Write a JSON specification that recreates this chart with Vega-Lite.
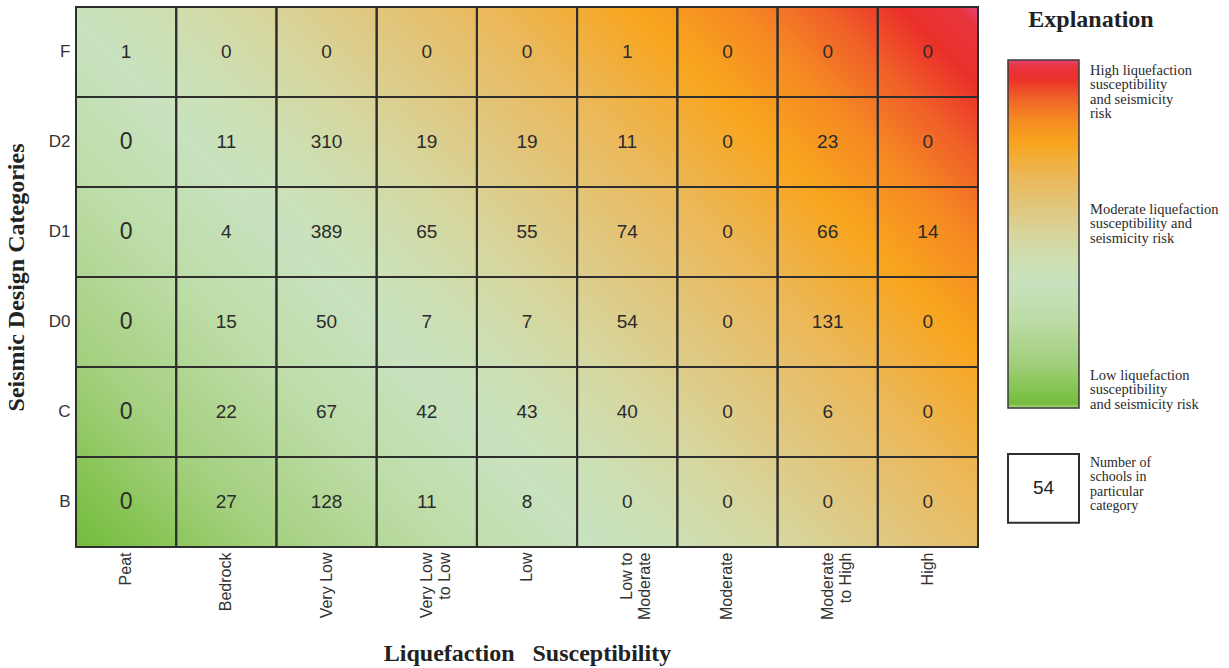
{
  "$schema": "https://vega.github.io/schema/vega-lite/v6.json",
  "padding": {"left": 4, "top": 6, "right": 5, "bottom": 5},
  "background": "white",
  "config": {"view": {"stroke": null}, "font": "Liberation Sans"},
  "spacing": 30,
  "bounds": "flush",
  "hconcat": [
    {
      "width": 902,
      "height": 540,
      "layer": [
        {
          "data": {"values": [{"x0": 0, "x1": 1, "y0": 0, "y1": 1}]},
          "mark": {
            "type": "rect",
            "strokeWidth": 0,
            "fill": {
              "gradient": "linear",
              "x1": 0, "y1": 1, "x2": 1.177, "y2": 0.297,
              "stops": [
                {"offset": 0, "color": "#72bb3c"},
                {"offset": 0.06, "color": "#88c556"},
                {"offset": 0.13, "color": "#a2cf7c"},
                {"offset": 0.25, "color": "#bcdca5"},
                {"offset": 0.36, "color": "#c8e2bf"},
                {"offset": 0.42, "color": "#cde0b4"},
                {"offset": 0.5, "color": "#d7d59c"},
                {"offset": 0.58, "color": "#e1c67c"},
                {"offset": 0.66, "color": "#ebb85a"},
                {"offset": 0.76, "color": "#f8a51e"},
                {"offset": 0.83, "color": "#f58a22"},
                {"offset": 0.89, "color": "#f06228"},
                {"offset": 0.945, "color": "#eb302a"},
                {"offset": 0.985, "color": "#e8353e"},
                {"offset": 1, "color": "#e6437c"}
              ]
            }
          },
          "encoding": {
            "x": {"field": "x0", "type": "quantitative", "scale": {"domain": [0, 1], "nice": false, "zero": false}, "axis": null},
            "x2": {"field": "x1"},
            "y": {"field": "y0", "type": "quantitative", "scale": {"domain": [0, 1], "nice": false, "zero": false}, "axis": null},
            "y2": {"field": "y1"}
          }
        },
        {
          "data": {
            "values": [
              {"row": "F", "col": "Peat", "n": 1},
              {"row": "F", "col": "Bedrock", "n": 0},
              {"row": "F", "col": "Very Low", "n": 0},
              {"row": "F", "col": "Very Low to Low", "n": 0},
              {"row": "F", "col": "Low", "n": 0},
              {"row": "F", "col": "Low to Moderate", "n": 1},
              {"row": "F", "col": "Moderate", "n": 0},
              {"row": "F", "col": "Moderate to High", "n": 0},
              {"row": "F", "col": "High", "n": 0},
              {"row": "D2", "col": "Peat", "n": 0},
              {"row": "D2", "col": "Bedrock", "n": 11},
              {"row": "D2", "col": "Very Low", "n": 310},
              {"row": "D2", "col": "Very Low to Low", "n": 19},
              {"row": "D2", "col": "Low", "n": 19},
              {"row": "D2", "col": "Low to Moderate", "n": 11},
              {"row": "D2", "col": "Moderate", "n": 0},
              {"row": "D2", "col": "Moderate to High", "n": 23},
              {"row": "D2", "col": "High", "n": 0},
              {"row": "D1", "col": "Peat", "n": 0},
              {"row": "D1", "col": "Bedrock", "n": 4},
              {"row": "D1", "col": "Very Low", "n": 389},
              {"row": "D1", "col": "Very Low to Low", "n": 65},
              {"row": "D1", "col": "Low", "n": 55},
              {"row": "D1", "col": "Low to Moderate", "n": 74},
              {"row": "D1", "col": "Moderate", "n": 0},
              {"row": "D1", "col": "Moderate to High", "n": 66},
              {"row": "D1", "col": "High", "n": 14},
              {"row": "D0", "col": "Peat", "n": 0},
              {"row": "D0", "col": "Bedrock", "n": 15},
              {"row": "D0", "col": "Very Low", "n": 50},
              {"row": "D0", "col": "Very Low to Low", "n": 7},
              {"row": "D0", "col": "Low", "n": 7},
              {"row": "D0", "col": "Low to Moderate", "n": 54},
              {"row": "D0", "col": "Moderate", "n": 0},
              {"row": "D0", "col": "Moderate to High", "n": 131},
              {"row": "D0", "col": "High", "n": 0},
              {"row": "C", "col": "Peat", "n": 0},
              {"row": "C", "col": "Bedrock", "n": 22},
              {"row": "C", "col": "Very Low", "n": 67},
              {"row": "C", "col": "Very Low to Low", "n": 42},
              {"row": "C", "col": "Low", "n": 43},
              {"row": "C", "col": "Low to Moderate", "n": 40},
              {"row": "C", "col": "Moderate", "n": 0},
              {"row": "C", "col": "Moderate to High", "n": 6},
              {"row": "C", "col": "High", "n": 0},
              {"row": "B", "col": "Peat", "n": 0},
              {"row": "B", "col": "Bedrock", "n": 27},
              {"row": "B", "col": "Very Low", "n": 128},
              {"row": "B", "col": "Very Low to Low", "n": 11},
              {"row": "B", "col": "Low", "n": 8},
              {"row": "B", "col": "Low to Moderate", "n": 0},
              {"row": "B", "col": "Moderate", "n": 0},
              {"row": "B", "col": "Moderate to High", "n": 0},
              {"row": "B", "col": "High", "n": 0}
            ]
          },
          "encoding": {
            "x": {
              "field": "col",
              "type": "nominal",
              "sort": ["Peat", "Bedrock", "Very Low", "Very Low to Low", "Low", "Low to Moderate", "Moderate", "Moderate to High", "High"],
              "scale": {"paddingInner": 0, "paddingOuter": 0},
              "axis": {
                "title": "Liquefaction\u00a0\u00a0\u00a0Susceptibility",
                "orient": "bottom",
                "labelAngle": -90,
                "labelAlign": "right",
                "labelBaseline": "middle",
                "labelFont": "Liberation Sans",
                "labelFontSize": 16,
                "labelColor": "#333333",
                "labelPadding": 5,
                "labelLineHeight": 18,
                "labelLimit": 0,
                "labelOverlap": false,
                "labelExpr": "datum.label == 'Very Low to Low' ? ['Very Low', 'to Low'] : datum.label == 'Low to Moderate' ? ['Low to', 'Moderate'] : datum.label == 'Moderate to High' ? ['Moderate', 'to High'] : datum.label",
                "ticks": false,
                "tickSize": 0,
                "domain": false,
                "grid": false,
                "titleFont": "Liberation Serif",
                "titleFontWeight": "bold",
                "titleFontSize": 24,
                "titleColor": "#222222",
                "titlePadding": 22
              }
            },
            "y": {
              "field": "row",
              "type": "nominal",
              "sort": ["F", "D2", "D1", "D0", "C", "B"],
              "scale": {"paddingInner": 0, "paddingOuter": 0},
              "axis": {
                "title": "Seismic Design Categories",
                "labelFont": "Liberation Sans",
                "labelFontSize": 17,
                "labelColor": "#333333",
                "labelPadding": 6,
                "ticks": false,
                "tickSize": 0,
                "domain": false,
                "grid": false,
                "titleFont": "Liberation Serif",
                "titleFontWeight": "bold",
                "titleFontSize": 24,
                "titleColor": "#222222",
                "titlePadding": 20
              }
            }
          },
          "layer": [
            {
              "mark": {"type": "rect", "fill": "transparent", "stroke": "#2e2e2e", "strokeWidth": 2}
            },
            {
              "mark": {"type": "text", "font": "Liberation Sans", "color": "#2b2b2b", "baseline": "middle", "align": "center"},
              "encoding": {
                "text": {"field": "n", "type": "quantitative"},
                "size": {"condition": {"test": "datum.col === 'Peat' && datum.row !== 'F'", "value": 23}, "value": 19}
              }
            }
          ]
        }
      ],
      "resolve": {"scale": {"x": "independent", "y": "independent"}}
    },
    {
      "width": 71,
      "height": 540,
      "data": {
        "values": [
          {
            "n": 54,
            "title": "Explanation",
            "high": "High liquefaction\nsusceptibility\nand seismicity\nrisk",
            "mod": "Moderate liquefaction\nsusceptibility and\nseismicity risk",
            "low": "Low liquefaction\nsusceptibility\nand seismicity risk",
            "num": "Number of\nschools in\nparticular\ncategory"
          }
        ]
      },
      "encoding": {
        "x": {"datum": 0, "type": "quantitative", "scale": {"domain": [0, 1], "nice": false, "zero": false}, "axis": null},
        "y": {"datum": 0, "type": "quantitative", "scale": {"domain": [-0.3994, 1.1523], "nice": false, "zero": false}, "axis": null}
      },
      "layer": [
        {
          "mark": {
            "type": "rect",
            "stroke": "#3a3a3a",
            "strokeWidth": 1.5,
            "fill": {
              "gradient": "linear",
              "x1": 0, "y1": 1, "x2": 0, "y2": 0,
              "stops": [
                {"offset": 0, "color": "#b3da8c"},
                {"offset": 0.012, "color": "#74bc3e"},
                {"offset": 0.06, "color": "#88c556"},
                {"offset": 0.13, "color": "#a2cf7c"},
                {"offset": 0.25, "color": "#bcdca5"},
                {"offset": 0.36, "color": "#c8e2bf"},
                {"offset": 0.42, "color": "#cde0b4"},
                {"offset": 0.5, "color": "#d7d59c"},
                {"offset": 0.58, "color": "#e1c67c"},
                {"offset": 0.66, "color": "#ebb85a"},
                {"offset": 0.76, "color": "#f8a51e"},
                {"offset": 0.83, "color": "#f58a22"},
                {"offset": 0.89, "color": "#f06228"},
                {"offset": 0.945, "color": "#eb302a"},
                {"offset": 0.982, "color": "#e8353e"},
                {"offset": 1, "color": "#e6437c"}
              ]
            }
          },
          "encoding": {
            "x": {"datum": 0, "type": "quantitative"},
            "x2": {"datum": 1},
            "y": {"datum": 0, "type": "quantitative"},
            "y2": {"datum": 1}
          }
        },
        {
          "mark": {"type": "rect", "fill": "white", "stroke": "#2e2e2e", "strokeWidth": 2},
          "encoding": {
            "x": {"datum": 0, "type": "quantitative"},
            "x2": {"datum": 1},
            "y": {"datum": -0.330, "type": "quantitative"},
            "y2": {"datum": -0.132}
          }
        },
        {
          "mark": {"type": "text", "font": "Liberation Sans", "fontSize": 19, "color": "#222222", "align": "center", "baseline": "middle"},
          "encoding": {
            "x": {"datum": 0.5, "type": "quantitative"},
            "y": {"datum": -0.230, "type": "quantitative"},
            "text": {"field": "n", "type": "quantitative"}
          }
        },
        {
          "mark": {"type": "text", "font": "Liberation Serif", "fontSize": 24, "fontWeight": "bold", "color": "#222222", "align": "center", "baseline": "alphabetic"},
          "encoding": {
            "x": {"datum": 1.169, "type": "quantitative"},
            "y": {"datum": 1.0948, "type": "quantitative"},
            "text": {"field": "title", "type": "nominal"}
          }
        },
        {
          "mark": {"type": "text", "font": "Liberation Serif", "fontSize": 14.5, "lineHeight": 14.5, "lineBreak": "\n", "color": "#2a2a2a", "align": "left", "baseline": "alphabetic"},
          "encoding": {
            "x": {"datum": 1.155, "type": "quantitative"},
            "y": {"datum": 0.957, "type": "quantitative"},
            "text": {"field": "high", "type": "nominal"}
          }
        },
        {
          "mark": {"type": "text", "font": "Liberation Serif", "fontSize": 14.5, "lineHeight": 14.5, "lineBreak": "\n", "color": "#2a2a2a", "align": "left", "baseline": "alphabetic"},
          "encoding": {
            "x": {"datum": 1.155, "type": "quantitative"},
            "y": {"datum": 0.5575, "type": "quantitative"},
            "text": {"field": "mod", "type": "nominal"}
          }
        },
        {
          "mark": {"type": "text", "font": "Liberation Serif", "fontSize": 14.5, "lineHeight": 14.5, "lineBreak": "\n", "color": "#2a2a2a", "align": "left", "baseline": "alphabetic"},
          "encoding": {
            "x": {"datum": 1.155, "type": "quantitative"},
            "y": {"datum": 0.0805, "type": "quantitative"},
            "text": {"field": "low", "type": "nominal"}
          }
        },
        {
          "mark": {"type": "text", "font": "Liberation Serif", "fontSize": 14, "lineHeight": 14.5, "lineBreak": "\n", "color": "#2a2a2a", "align": "left", "baseline": "alphabetic"},
          "encoding": {
            "x": {"datum": 1.155, "type": "quantitative"},
            "y": {"datum": -0.1695, "type": "quantitative"},
            "text": {"field": "num", "type": "nominal"}
          }
        }
      ]
    }
  ]
}
